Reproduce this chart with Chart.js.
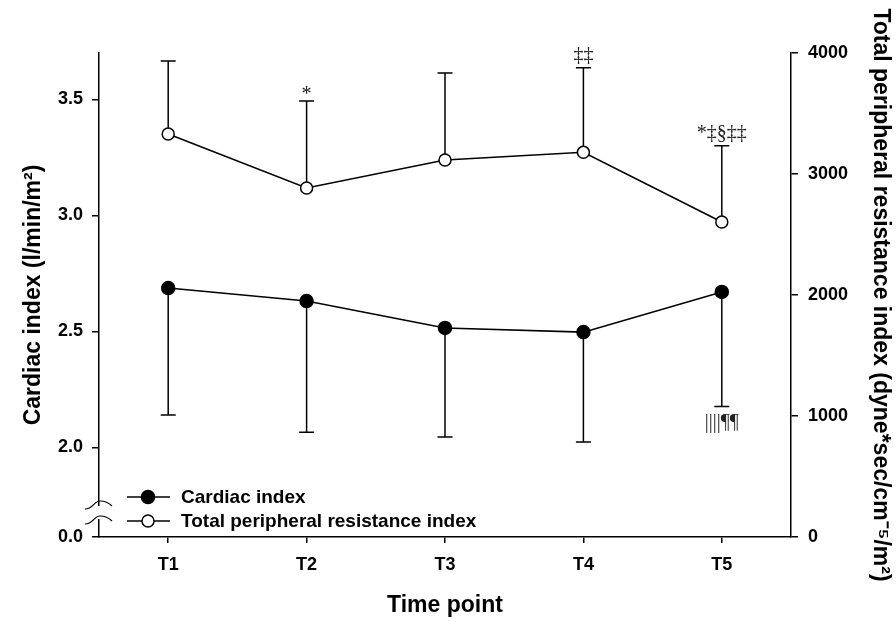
<!DOCTYPE html>
<html><head><meta charset="utf-8">
<script src="https://cdn.jsdelivr.net/npm/chart.js@4.4.1/dist/chart.umd.min.js"></script>
<style>html,body{margin:0;padding:0;background:#fff;} #wrap{width:896px;height:622px;}</style>
</head><body><div id="wrap"><canvas id="c" width="896" height="622"></canvas></div>
<script>
const timePoints = ['T1', 'T2', 'T3', 'T4', 'T5'];
const cardiacIndex = [2.687, 2.631, 2.515, 2.497, 2.670];
const cardiacIndexLower = [2.14, 2.066, 2.045, 2.023, 2.176];
const tpri = [3331, 2884, 3116, 3179, 2603];
const tpriUpper = [3934, 3603, 3835, 3879, 3234];
const tpriMarks = ['', '*', '', '‡‡', '*‡§‡‡'];
const ciMarks = ['', '', '', '', '||||¶¶'];
const ciTickValues = [0.0, 2.0, 2.5, 3.0, 3.5];
const ciBreakBase = 1.614;   // axis value drawn where the broken axis shows "0.0"
const ciMax = 3.70;
const tpriMin = 0, tpriMax = 4000, tpriStep = 1000;

const SANS = "'Liberation Sans', Arial, sans-serif";
const SERIF = "'Liberation Serif', 'Times New Roman', serif";
Chart.defaults.font.family = SANS;
Chart.defaults.color = '#000';

const overlay = {
  id: 'overlay',
  beforeDatasetsDraw(chart) {
    const ctx = chart.ctx, x = chart.scales.x, yL = chart.scales.yL, yR = chart.scales.yR;
    ctx.save();
    ctx.strokeStyle = '#000'; ctx.lineWidth = 1.5;
    const cap = 7.5;
    timePoints.forEach((t, i) => {
      const px = x.getPixelForValue(i);
      let y0 = yL.getPixelForValue(cardiacIndex[i]), y1 = yL.getPixelForValue(cardiacIndexLower[i]);
      ctx.beginPath(); ctx.moveTo(px, y0); ctx.lineTo(px, y1);
      ctx.moveTo(px - cap, y1); ctx.lineTo(px + cap, y1); ctx.stroke();
      y0 = yR.getPixelForValue(tpri[i]); y1 = yR.getPixelForValue(tpriUpper[i]);
      ctx.beginPath(); ctx.moveTo(px, y0); ctx.lineTo(px, y1);
      ctx.moveTo(px - cap, y1); ctx.lineTo(px + cap, y1); ctx.stroke();
    });
    ctx.restore();
  },
  afterDatasetsDraw(chart) {
    const ctx = chart.ctx, x = chart.scales.x, yL = chart.scales.yL, yR = chart.scales.yR;
    const area = chart.chartArea;
    ctx.save();
    ctx.fillStyle = '#222';
    ctx.font = '20px ' + SERIF;
    ctx.textAlign = 'center';
    timePoints.forEach((t, i) => {
      const px = x.getPixelForValue(i);
      if (tpriMarks[i]) {
        const yc = yR.getPixelForValue(tpriUpper[i]);
        ctx.textBaseline = 'alphabetic';
        const onlyStar = /^\*+$/.test(tpriMarks[i]);
        ctx.fillText(tpriMarks[i], px, yc - (onlyStar ? 1 : 7));
      }
      if (ciMarks[i]) {
        const yc = yL.getPixelForValue(cardiacIndexLower[i]);
        ctx.textBaseline = 'top';
        ctx.fillText(ciMarks[i], px, yc + 6);
      }
    });
    ctx.font = 'bold 19px ' + SANS;
    ctx.textAlign = 'left'; ctx.textBaseline = 'middle';
    chart.data.datasets.forEach((ds, k) => {
      const ly = area.bottom - 40 + k * 24;
      const lx0 = area.left + 28, lx1 = area.left + 71, mx = area.left + 49;
      ctx.strokeStyle = '#000'; ctx.lineWidth = 1.5;
      ctx.beginPath(); ctx.moveTo(lx0, ly); ctx.lineTo(lx1, ly); ctx.stroke();
      ctx.beginPath(); ctx.arc(mx, ly, ds.pointRadius, 0, Math.PI * 2);
      ctx.fillStyle = ds.pointBackgroundColor; ctx.fill(); ctx.stroke();
      ctx.fillStyle = '#000';
      ctx.fillText(ds.label, area.left + 82, ly + 1);
    });
    const ax = area.left;
    const bA = area.bottom - 32, bB = area.bottom - 17;
    ctx.fillStyle = '#fff';
    ctx.fillRect(ax - 3, bA + 1, 6, bB - bA - 2);
    ctx.strokeStyle = '#000'; ctx.lineWidth = 1.2;
    [bA, bB].forEach(by => {
      ctx.beginPath();
      ctx.moveTo(ax - 14, by + 4);
      ctx.bezierCurveTo(ax - 6, by + 4, ax - 5, by - 4, ax + 1, by - 4);
      ctx.bezierCurveTo(ax + 7, by - 4, ax + 11, by - 1, ax + 13, by + 1);
      ctx.stroke();
    });
    ctx.restore();
  }
};

new Chart(document.getElementById('c'), {
  type: 'line',
  data: {
    labels: timePoints,
    datasets: [
      { label: 'Cardiac index', data: cardiacIndex, yAxisID: 'yL',
        borderColor: '#000', borderWidth: 1.5, pointRadius: 6.5, pointBackgroundColor: '#000',
        pointBorderColor: '#000', pointBorderWidth: 1.5, tension: 0 },
      { label: 'Total peripheral resistance index', data: tpri, yAxisID: 'yR',
        borderColor: '#000', borderWidth: 1.5, pointRadius: 6, pointBackgroundColor: '#fff',
        pointBorderColor: '#000', pointBorderWidth: 1.5, tension: 0 }
    ]
  },
  options: {
    responsive: false, animation: false, devicePixelRatio: 1,
    layout: { padding: { top: 53, left: 0, right: 0, bottom: 0 } },
    plugins: { legend: { display: false }, tooltip: { enabled: false } },
    scales: {
      x: {
        type: 'category', offset: true,
        grid: { offset: false, drawOnChartArea: false, drawTicks: true, tickLength: 6, color: '#000', lineWidth: 1.5 },
        border: { display: true, color: '#000', width: 1.5 },
        ticks: { font: { size: 18, weight: 'bold' }, color: '#000', padding: 11 },
        title: { display: true, text: 'Time point', font: { size: 23, weight: 'bold' }, color: '#000', padding: { top: 0, bottom: 2.5 } },
        afterFit(s) { s.height = 85; }
      },
      yL: {
        type: 'linear', position: 'left', min: ciBreakBase, max: ciMax,
        afterBuildTicks(s) { s.ticks = ciTickValues.map(v => ({ value: v === 0 ? ciBreakBase : v })); },
        grid: { drawOnChartArea: false, drawTicks: true, tickLength: 7, color: '#000', lineWidth: 1.5 },
        border: { display: true, color: '#000', width: 1.5 },
        ticks: { font: { size: 18, weight: 'bold' }, color: '#000', padding: 9,
          callback: (v, i) => ciTickValues[i].toFixed(1) },
        title: { display: true, text: 'Cardiac index (l/min/m²)', font: { size: 23, weight: 'bold' }, color: '#000', padding: { top: 20, bottom: 0 } },
        afterFit(s) { s.width = 99; }
      },
      yR: {
        type: 'linear', position: 'right', min: tpriMin, max: tpriMax,
        grid: { drawOnChartArea: false, drawTicks: true, tickLength: 7, color: '#000', lineWidth: 1.5 },
        border: { display: true, color: '#000', width: 1.5 },
        ticks: { stepSize: tpriStep, font: { size: 18, weight: 'bold' }, color: '#000', padding: 10,
          callback: (v) => String(v) },
        title: { display: true, text: 'Total peripheral resistance index (dyne*sec/cm⁻⁵/m²)', font: { size: 23, weight: 'bold' }, color: '#000', padding: { top: 2, bottom: 0 } },
        afterFit(s) { s.width = 105; }
      }
    }
  },
  plugins: [overlay]
});
</script></body></html>
